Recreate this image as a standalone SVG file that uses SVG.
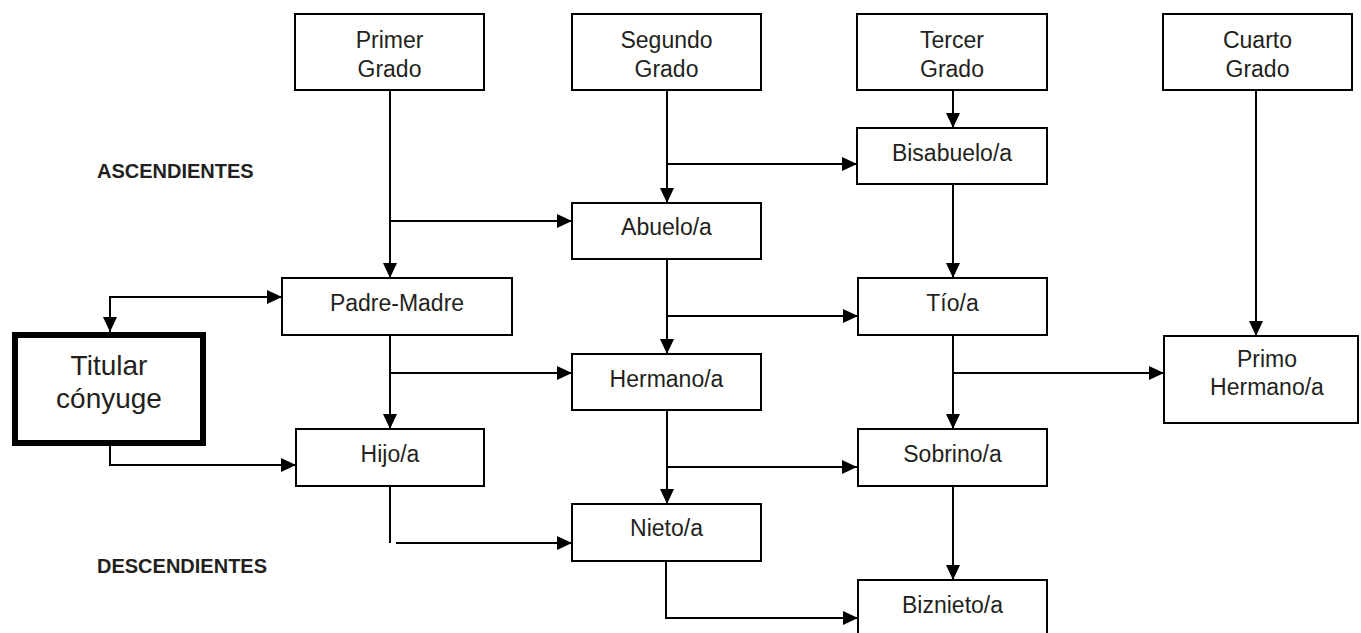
<svg xmlns="http://www.w3.org/2000/svg" width="1361" height="633" viewBox="0 0 1361 633">
<style>
.box{fill:#fff;stroke:#000;stroke-width:2}
.t{font-family:"Liberation Sans",Arial,sans-serif;font-size:23px;fill:#231f20;text-anchor:middle}
.big{font-size:28px}
.lbl{font-family:"Liberation Sans",Arial,sans-serif;font-size:20px;font-weight:bold;fill:#231f20}
.c{fill:none;stroke:#000;stroke-width:2}
</style>
<defs>
<marker id="ah" markerUnits="userSpaceOnUse" markerWidth="15" markerHeight="14" refX="15" refY="7" orient="auto">
<path d="M0,0 L15,7 L0,14 z" fill="#000"/>
</marker>
<marker id="ahs" markerUnits="userSpaceOnUse" markerWidth="15" markerHeight="14" refX="15" refY="7" orient="auto-start-reverse">
<path d="M0,0 L15,7 L0,14 z" fill="#000"/>
</marker>
</defs>
<rect width="1361" height="633" fill="#fff"/>
<text class="lbl" x="97" y="178">ASCENDIENTES</text>
<text class="lbl" x="97" y="573">DESCENDIENTES</text>
<g id="connectors">
<path class="c" d="M390,90 V278" marker-end="url(#ah)"/>
<path class="c" d="M390,221 H572" marker-end="url(#ah)"/>
<path class="c" d="M667,90 V203" marker-end="url(#ah)"/>
<path class="c" d="M667,164 H857" marker-end="url(#ah)"/>
<path class="c" d="M953,90 V128" marker-end="url(#ah)"/>
<path class="c" d="M953,184 V278" marker-end="url(#ah)"/>
<path class="c" d="M1256,90 V336" marker-end="url(#ah)"/>
<path class="c" d="M667,259 V354" marker-end="url(#ah)"/>
<path class="c" d="M667,316 H858" marker-end="url(#ah)"/>
<path class="c" d="M390,335 V429" marker-end="url(#ah)"/>
<path class="c" d="M390,373 H572" marker-end="url(#ah)"/>
<path class="c" d="M953,335 V429" marker-end="url(#ah)"/>
<path class="c" d="M953,373 H1164" marker-end="url(#ah)"/>
<path class="c" d="M667,410 V504" marker-end="url(#ah)"/>
<path class="c" d="M667,467 H857" marker-end="url(#ah)"/>
<path class="c" d="M390,486 V543"/>
<path class="c" d="M396,543 H572" marker-end="url(#ah)"/>
<path class="c" d="M666,561 V618 H858" marker-end="url(#ah)"/>
<path class="c" d="M953,486 V580" marker-end="url(#ah)"/>
<path class="c" d="M110,332 V297 H282" marker-start="url(#ahs)" marker-end="url(#ah)"/>
<path class="c" d="M110,446 V465 H296" marker-end="url(#ah)"/>
</g>
<g id="primer"><rect class="box" x="295" y="14" width="189" height="76"/><text class="t" x="389.5" y="48">Primer</text><text class="t" x="389.5" y="77">Grado</text></g>
<g id="segundo"><rect class="box" x="572" y="14" width="189" height="76"/><text class="t" x="666.5" y="48">Segundo</text><text class="t" x="666.5" y="77">Grado</text></g>
<g id="tercer"><rect class="box" x="857" y="14" width="190" height="76"/><text class="t" x="952" y="48">Tercer</text><text class="t" x="952" y="77">Grado</text></g>
<g id="cuarto"><rect class="box" x="1163" y="14" width="189" height="76"/><text class="t" x="1257.5" y="48">Cuarto</text><text class="t" x="1257.5" y="77">Grado</text></g>
<g id="bisabuelo"><rect class="box" x="857" y="128" width="190" height="56"/><text class="t" x="952" y="161">Bisabuelo/a</text></g>
<g id="abuelo"><rect class="box" x="572" y="203" width="189" height="56"/><text class="t" x="666.5" y="235">Abuelo/a</text></g>
<g id="padre"><rect class="box" x="282" y="278" width="230" height="57"/><text class="t" x="397" y="311">Padre-Madre</text></g>
<g id="tio"><rect class="box" x="858" y="278" width="189" height="57"/><text class="t" x="952.5" y="311">Tío/a</text></g>
<g id="titular"><rect x="15" y="335" width="188" height="108" fill="#fff" stroke="#000" stroke-width="6"/><text class="t big" x="109" y="375">Titular</text><text class="t big" x="109" y="408">cónyuge</text></g>
<g id="hermano"><rect class="box" x="572" y="354" width="189" height="56"/><text class="t" x="666.5" y="387">Hermano/a</text></g>
<g id="primo"><rect class="box" x="1164" y="336" width="194" height="87"/><text class="t" x="1267" y="367">Primo</text><text class="t" x="1267" y="395">Hermano/a</text></g>
<g id="hijo"><rect class="box" x="296" y="429" width="188" height="57"/><text class="t" x="390" y="462">Hijo/a</text></g>
<g id="sobrino"><rect class="box" x="858" y="429" width="189" height="57"/><text class="t" x="952.5" y="462">Sobrino/a</text></g>
<g id="nieto"><rect class="box" x="572" y="504" width="189" height="57"/><text class="t" x="666.5" y="536">Nieto/a</text></g>
<g id="biznieto"><rect class="box" x="858" y="580" width="189" height="70"/><text class="t" x="952.5" y="613">Biznieto/a</text></g>
</svg>
